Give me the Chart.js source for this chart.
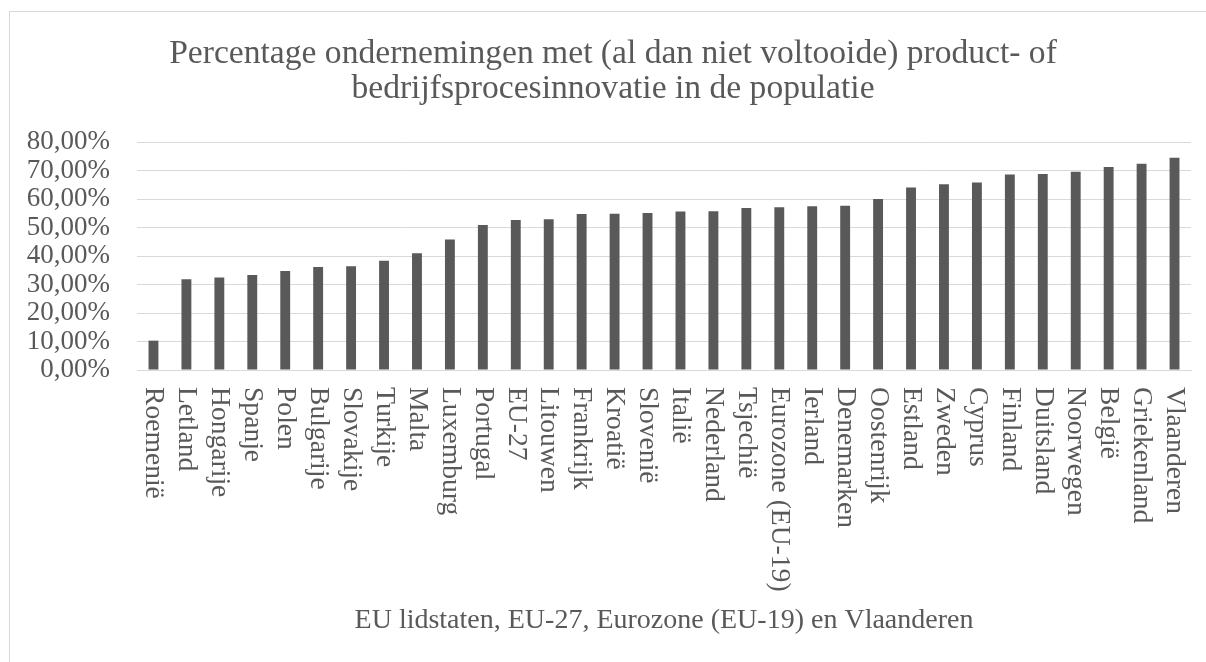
<!DOCTYPE html>
<html>
<head>
<meta charset="utf-8">
<script src="https://cdn.jsdelivr.net/npm/chart.js@4/dist/chart.umd.min.js"></script>
<style>
    html, body { margin: 0; padding: 0; background: #fff; }
    #wrap { position: relative; width: 1206px; height: 662px; overflow: hidden; }
    #frame { position: absolute; left: 9px; top: 11px; width: 1400px; height: 900px; border: 1px solid #d9d9d9; }
    #chart { position: absolute; left: 0; top: 0; }
</style>
</head>
<body>
<div id="wrap">
    <div id="frame"></div>
    <canvas id="chart" width="1206" height="662"></canvas>
</div>
<script>
// landen / regio's, gesorteerd van laag naar hoog
const landen = [
    'Roemenië', 'Letland', 'Hongarije', 'Spanje', 'Polen', 'Bulgarije', 'Slovakije', 'Turkije',
    'Malta', 'Luxemburg', 'Portugal', 'EU-27', 'Litouwen', 'Frankrijk', 'Kroatië', 'Slovenië',
    'Italië', 'Nederland', 'Tsjechië', 'Eurozone (EU-19)', 'Ierland', 'Denemarken', 'Oostenrijk',
    'Estland', 'Zweden', 'Cyprus', 'Finland', 'Duitsland', 'Noorwegen', 'België', 'Griekenland',
    'Vlaanderen'
];

// percentage ondernemingen met innovatie (%)
const percentages = [
    10.3, 31.8, 32.5, 33.3, 34.7, 36.1, 36.4, 38.3,
    41.0, 45.8, 50.9, 52.6, 52.9, 54.7, 54.8, 55.1,
    55.6, 55.7, 56.8, 57.1, 57.5, 57.6, 60.0,
    64.0, 65.2, 65.8, 68.6, 68.8, 69.6, 71.2, 72.4,
    74.5
];

const titelRegels = [
    'Percentage ondernemingen met (al dan niet voltooide) product- of',
    'bedrijfsprocesinnovatie in de populatie'
];
const asTitel = 'EU lidstaten, EU-27, Eurozone (EU-19) en Vlaanderen';

const yMin = 0;
const yMax = 80;
const yStap = 10;

const grijs = '#595959';
const lijnKleur = '#d9d9d9';
const lettertype = "'Liberation Serif', 'Times New Roman', serif";

// titel in twee regels, iets rechts van het midden zoals in het origineel
const titel = {
    id: 'titel',
    afterDraw(chart) {
        const ctx = chart.ctx;
        ctx.save();
        ctx.fillStyle = grijs;
        ctx.font = '33.6px ' + lettertype;
        ctx.textAlign = 'center';
        ctx.textBaseline = 'alphabetic';
        titelRegels.forEach(function(regel, i) {
            ctx.fillText(regel, 613, 63 + i * 35);
        });
        ctx.restore();
    }
};

// x-labels van boven naar beneden (90 graden met de klok mee)
const verticaleLabels = {
    id: 'verticaleLabels',
    afterDraw(chart) {
        const ctx = chart.ctx;
        const xAs = chart.scales.x;
        ctx.save();
        ctx.fillStyle = grijs;
        ctx.font = '27.6px ' + lettertype;
        ctx.textAlign = 'left';
        ctx.textBaseline = 'middle';
        chart.data.labels.forEach(function(label, i) {
            const x = xAs.getPixelForTick(i);
            ctx.save();
            ctx.translate(x, xAs.top + 17);
            ctx.rotate(Math.PI / 2);
            ctx.fillText(label, 0, 0);
            ctx.restore();
        });
        ctx.restore();
    }
};

const ctx = document.getElementById('chart').getContext('2d');
new Chart(ctx, {
    type: 'bar',
    data: {
        labels: landen,
        datasets: [{
            data: percentages,
            backgroundColor: grijs,
            borderWidth: 0,
            barPercentage: 0.3,
            categoryPercentage: 1
        }]
    },
    options: {
        responsive: false,
        animation: false,
        layout: { padding: { left: 0, right: 15, top: 142, bottom: 0 } },
        plugins: {
            legend: { display: false },
            tooltip: { enabled: false },
            title: { display: false }
        },
        scales: {
            x: {
                grid: { display: false, drawTicks: false },
                border: { color: lijnKleur },
                ticks: { display: false },
                title: {
                    display: true,
                    text: asTitel,
                    color: grijs,
                    font: { family: lettertype, size: 28, lineHeight: 1.2 },
                    padding: { top: 0, bottom: 25 }
                },
                afterFit: function(scale) { scale.height = 292; }
            },
            y: {
                min: yMin,
                max: yMax,
                grid: { color: lijnKleur, lineWidth: 1, drawTicks: false },
                border: { display: false },
                ticks: {
                    stepSize: yStap,
                    autoSkip: false,
                    padding: 27,
                    color: grijs,
                    font: { family: lettertype, size: 27, lineHeight: 1 },
                    callback: function(v) { return v.toFixed(2).replace('.', ',') + '%'; }
                },
                afterFit: function(scale) { scale.width = 137; }
            }
        }
    },
    plugins: [titel, verticaleLabels]
});
</script>
</body>
</html>
